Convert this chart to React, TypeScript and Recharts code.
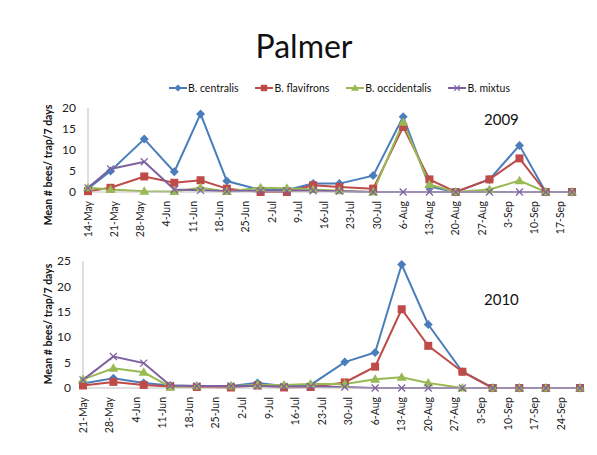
import React from 'react';
import { LineChart, Line, XAxis, YAxis } from 'recharts';

const seriesNames = ['B. centralis', 'B. flavifrons', 'B. occidentalis', 'B. mixtus'];
const seriesKeys = ['centralis', 'flavifrons', 'occidentalis', 'mixtus'];
const seriesColors = ['#4A7EBB', '#BE4B48', '#98B954', '#7D60A0'];

// 2009 sampling dates and means
const dates2009 = ['14-May', '20-May', '29-May', '6-Jun', '13-Jun', '20-Jun', '29-Jun', '6-Jul', '13-Jul', '20-Jul', '29-Jul', '6-Aug', '13-Aug', '20-Aug', '29-Aug', '6-Sep', '13-Sep', '20-Sep'];
const centralis2009 = [0.8, 5.0, 12.6, 4.8, 18.6, 2.6, 0.5, 0.5, 2.0, 2.0, 3.9, 17.9, 1.3, 0, 3.0, 11.1, 0, 0];
const flavifrons2009 = [0.2, 1.0, 3.7, 2.2, 2.8, 0.8, 0, 0, 1.6, 1.2, 0.8, 15.5, 3.0, 0, 3.0, 8.0, 0, 0];
const occidentalis2009 = [1.0, 0.6, 0.2, 0.1, 1.0, 0.1, 1.0, 0.9, 0.6, 0.3, 0, 16.6, 1.8, 0, 0.6, 2.7, 0, 0];
const mixtus2009 = [1.0, 5.5, 7.2, 0.6, 0.4, 0.2, 0.3, 0.3, 0.3, 0.2, 0, 0, 0, 0, 0, 0, 0, 0];
const ticks2009 = ['14-May', '21-May', '28-May', '4-Jun', '11-Jun', '18-Jun', '25-Jun', '2-Jul', '9-Jul', '16-Jul', '23-Jul', '30-Jul', '6-Aug', '13-Aug', '20-Aug', '27-Aug', '3-Sep', '10-Sep', '17-Sep'];

// 2010
const dates2010 = ['21-May', '29-May', '6-Jun', '13-Jun', '20-Jun', '29-Jun', '6-Jul', '13-Jul', '20-Jul', '29-Jul', '6-Aug', '13-Aug', '20-Aug', '29-Aug', '6-Sep', '13-Sep', '20-Sep', '29-Sep'];
const centralis2010 = [0.9, 1.9, 1.0, 0.5, 0.4, 0.4, 1.0, 0.4, 0.6, 5.1, 7.0, 24.3, 12.5, 3.2, 0, 0, 0, 0];
const flavifrons2010 = [0.5, 1.2, 0.6, 0.3, 0.2, 0.1, 0.5, 0.1, 0.2, 1.1, 4.2, 15.5, 8.3, 3.2, 0, 0, 0, 0];
const occidentalis2010 = [1.7, 3.9, 3.1, 0.2, 0.4, 0.4, 0.6, 0.6, 0.8, 0.8, 1.7, 2.1, 1.0, 0, 0, 0, 0, 0];
const mixtus2010 = [1.6, 6.2, 4.9, 0.5, 0.4, 0.4, 0.4, 0.3, 0.3, 0.2, 0, 0, 0, 0, 0, 0, 0, 0];
const ticks2010 = ['21-May', '28-May', '4-Jun', '11-Jun', '18-Jun', '25-Jun', '2-Jul', '9-Jul', '16-Jul', '23-Jul', '30-Jul', '6-Aug', '13-Aug', '20-Aug', '27-Aug', '3-Sep', '10-Sep', '17-Sep', '24-Sep'];

const yTicks2009 = [0, 5, 10, 15, 20];
const yTicks2010 = [0, 5, 10, 15, 20, 25];

const FONT = 'Lato, "Open Sans", sans-serif';
const months: Record<string, number> = { May: 4, Jun: 5, Jul: 6, Aug: 7, Sep: 8 };

// day number in the year for a "14-May" style label
const toDay = (label: string) => {
  const [d, m] = label.split('-');
  return Math.round((Date.UTC(2009, months[m], Number(d)) - Date.UTC(2009, 0, 1)) / 86400000);
};

const buildRows = (dates: string[], cols: number[][]) =>
  dates.map((d, i) => ({
    t: toDay(d),
    centralis: cols[0][i],
    flavifrons: cols[1][i],
    occidentalis: cols[2][i],
    mixtus: cols[3][i],
  }));

const rows2009 = buildRows(dates2009, [centralis2009, flavifrons2009, occidentalis2009, mixtus2009]);
const rows2010 = buildRows(dates2010, [centralis2010, flavifrons2010, occidentalis2010, mixtus2010]);

const Marker = ({ idx, cx, cy, k = 1 }: { idx: number; cx: number; cy: number; k?: number }) => {
  const c = seriesColors[idx];
  if (idx === 0) {
    const s = 4.5 * k;
    return <path d={`M${cx},${cy - s}L${cx + s},${cy}L${cx},${cy + s}L${cx - s},${cy}Z`} fill={c} />;
  }
  if (idx === 1) {
    const s = 4 * k;
    return <rect x={cx - s} y={cy - s} width={2 * s} height={2 * s} fill={c} />;
  }
  if (idx === 2) {
    const s = 5 * k;
    return <path d={`M${cx},${cy - s}L${cx + s},${cy + 0.7 * s}L${cx - s},${cy + 0.7 * s}Z`} fill={c} />;
  }
  const s = 3.5 * k;
  return (
    <path d={`M${cx - s},${cy - s}L${cx + s},${cy + s}M${cx + s},${cy - s}L${cx - s},${cy + s}`} stroke={c} strokeWidth={1.2} fill="none" />
  );
};

const DateTick = ({ x, y, payload, labels }: any) => {
  const label = labels.find((l: string) => toDay(l) === payload.value) || '';
  return (
    <g transform={`translate(${x},${y})`}>
      <text transform="rotate(-90)" x={-1} y={0} dy="0.35em" textAnchor="end" fontSize={10.5} fill="#222" fontFamily={FONT}>
        {label}
      </text>
    </g>
  );
};

const YearChart = ({ rows, ticks, yTicks, yMax, year, height, margin, yearPos }: any) => {
  const first = toDay(ticks[0]);
  const last = rows[rows.length - 1].t;
  return (
    <div style={{ position: 'absolute', left: 0, top: 0 }}>
      <LineChart width={597} height={height} data={rows} margin={margin}>
        <XAxis
          dataKey="t"
          type="number"
          domain={[first, last]}
          ticks={ticks.map(toDay)}
          interval={0}
          height={40}
          tickLine={false}
          axisLine={{ stroke: '#BFBFBF' }}
          tick={<DateTick labels={ticks} />}
        />
        <YAxis
          domain={[0, yMax]}
          ticks={yTicks}
          width={30}
          tickLine={false}
          tickMargin={6}
          axisLine={{ stroke: '#BFBFBF' }}
          tick={{ fontSize: 12, fill: '#222', fontFamily: FONT }}
        />
        {seriesKeys.map((k, i) => (
          <Line
            key={k}
            dataKey={k}
            stroke={seriesColors[i]}
            strokeWidth={2}
            isAnimationActive={false}
            dot={(p: any) => <Marker key={`${k}-${p.index}`} idx={i} cx={p.cx} cy={p.cy} />}
            activeDot={false}
          />
        ))}
      </LineChart>
      <div style={{ position: 'absolute', left: yearPos[0], top: yearPos[1], fontSize: 15, fontFamily: FONT, color: '#111' }}>{year}</div>
    </div>
  );
};

const LegendIcon = ({ idx }: { idx: number }) => (
  <svg width={18} height={10} style={{ marginRight: 1 }}>
    <line x1={0} y1={5} x2={18} y2={5} stroke={seriesColors[idx]} strokeWidth={2} />
    <Marker idx={idx} cx={9} cy={5} k={0.8} />
  </svg>
);

const YLabel = ({ cx, cy }: { cx: number; cy: number }) => (
  <div
    style={{
      position: 'absolute',
      left: cx - 100,
      top: cy - 8,
      width: 200,
      height: 16,
      lineHeight: '16px',
      textAlign: 'center',
      transform: 'rotate(-90deg)',
      fontFamily: FONT,
      fontWeight: 700,
      fontSize: 10.5,
      color: '#111',
      whiteSpace: 'nowrap',
    }}
  >
    Mean # bees/ trap/7 days
  </div>
);

export default function App() {
  return (
    <div style={{ position: 'absolute', left: 0, top: 0, width: 597, height: 455, background: '#fff', overflow: 'hidden' }}>
      <div style={{ position: 'absolute', left: 0, top: 26, width: 608, textAlign: 'center', fontFamily: FONT, fontSize: 32, color: '#111' }}>
        Palmer
      </div>
      <div style={{ position: 'absolute', left: 169, top: 82, display: 'flex', alignItems: 'center', fontFamily: FONT, fontSize: 10.5, color: '#111' }}>
        {seriesNames.map((n, i) => (
          <div key={n} style={{ display: 'flex', alignItems: 'center', marginRight: 17 }}>
            <LegendIcon idx={i} />
            <span>{n}</span>
          </div>
        ))}
      </div>
      <YearChart
        rows={rows2009}
        ticks={ticks2009}
        yTicks={yTicks2009}
        yMax={20}
        year="2009"
        height={240}
        margin={{ top: 108, right: 25, left: 58, bottom: 8 }}
        yearPos={[484, 110]}
      />
      <YearChart
        rows={rows2010}
        ticks={ticks2010}
        yTicks={yTicks2010}
        yMax={25}
        year="2010"
        height={440}
        margin={{ top: 261, right: 17, left: 53, bottom: 12 }}
        yearPos={[484, 290]}
      />
      <YLabel cx={48} cy={165} />
      <YLabel cx={48} cy={324} />
    </div>
  );
}
